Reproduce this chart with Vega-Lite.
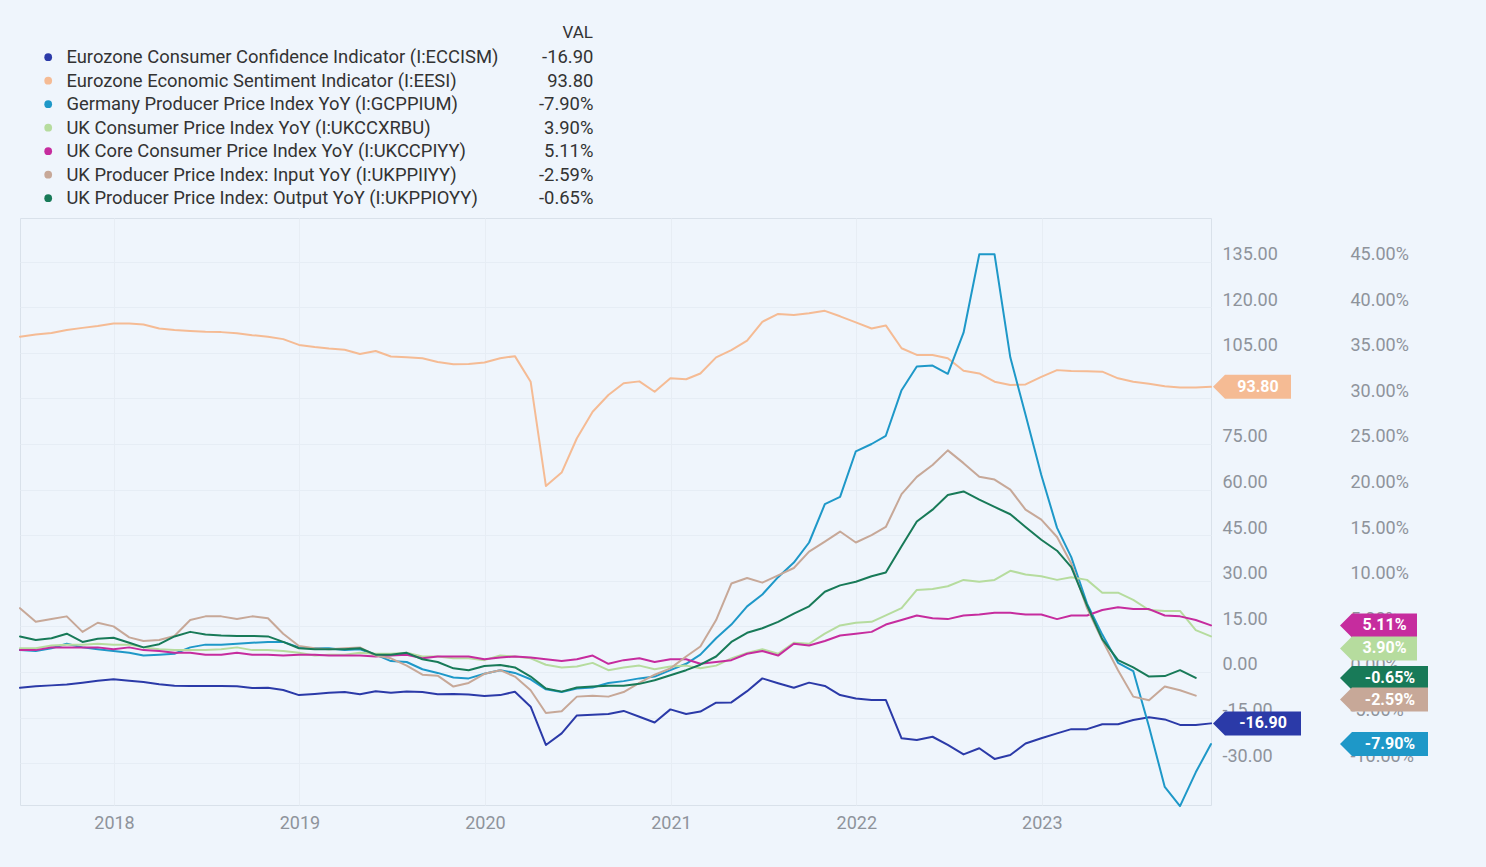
{
  "$schema": "https://vega.github.io/schema/vega-lite/v6.json",
  "width": 1191,
  "height": 587,
  "autosize": "none",
  "padding": {"left": 20, "top": 218, "right": 275, "bottom": 62},
  "background": "#eff5fc",
  "config": {
    "font": "Roboto",
    "view": {"stroke": "#d9e1ea", "strokeWidth": 1},
    "axis": {"domain": false, "ticks": false, "labelFont": "Roboto", "labelFontSize": 18, "labelColor": "#8e939b", "gridColor": "#e6edf5", "gridWidth": 1},
    "legend": {"labelFont": "Roboto", "titleFont": "Roboto"}
  },
  "data": {
    "format": {"parse": {"d": "date"}},
    "values": [
      {"d": "2017-06-30", "cc": -5.2, "es": 110.3, "de": 2.4, "cpi": 2.6, "core": 2.4, "pin": 7.0, "pout": 3.9},
      {"d": "2017-07-31", "cc": -4.7, "es": 111.0, "de": 2.3, "cpi": 2.6, "core": 2.4, "pin": 5.5, "pout": 3.5},
      {"d": "2017-08-31", "cc": -4.4, "es": 111.5, "de": 2.6, "cpi": 2.9, "core": 2.7, "pin": 5.8, "pout": 3.7},
      {"d": "2017-09-30", "cc": -4.1, "es": 112.5, "de": 3.1, "cpi": 3.0, "core": 2.7, "pin": 6.1, "pout": 4.2},
      {"d": "2017-10-31", "cc": -3.5, "es": 113.2, "de": 2.7, "cpi": 3.0, "core": 2.7, "pin": 4.4, "pout": 3.3},
      {"d": "2017-11-30", "cc": -2.9, "es": 113.8, "de": 2.5, "cpi": 3.1, "core": 2.7, "pin": 5.4, "pout": 3.65},
      {"d": "2017-12-31", "cc": -2.4, "es": 114.6, "de": 2.3, "cpi": 3.0, "core": 2.5, "pin": 5.0, "pout": 3.75},
      {"d": "2018-01-31", "cc": -2.9, "es": 114.6, "de": 2.1, "cpi": 3.0, "core": 2.7, "pin": 3.8, "pout": 3.2},
      {"d": "2018-02-28", "cc": -3.3, "es": 114.3, "de": 1.8, "cpi": 2.7, "core": 2.4, "pin": 3.4, "pout": 2.7},
      {"d": "2018-03-31", "cc": -4.0, "es": 113.0, "de": 1.9, "cpi": 2.5, "core": 2.3, "pin": 3.5, "pout": 3.05},
      {"d": "2018-04-30", "cc": -4.5, "es": 112.5, "de": 2.0, "cpi": 2.4, "core": 2.1, "pin": 3.95, "pout": 3.9},
      {"d": "2018-05-31", "cc": -4.6, "es": 112.2, "de": 2.7, "cpi": 2.4, "core": 2.1, "pin": 5.7, "pout": 4.4},
      {"d": "2018-06-30", "cc": -4.6, "es": 111.9, "de": 3.0, "cpi": 2.4, "core": 1.9, "pin": 6.1, "pout": 4.1},
      {"d": "2018-07-31", "cc": -4.6, "es": 111.8, "de": 3.0, "cpi": 2.5, "core": 1.9, "pin": 6.1, "pout": 4.0},
      {"d": "2018-08-31", "cc": -4.7, "es": 111.4, "de": 3.1, "cpi": 2.7, "core": 2.1, "pin": 5.8, "pout": 3.95},
      {"d": "2018-09-30", "cc": -5.3, "es": 110.8, "de": 3.2, "cpi": 2.4, "core": 1.9, "pin": 6.1, "pout": 3.95},
      {"d": "2018-10-31", "cc": -5.2, "es": 110.3, "de": 3.3, "cpi": 2.4, "core": 1.9, "pin": 5.9, "pout": 3.9},
      {"d": "2018-11-30", "cc": -5.9, "es": 109.5, "de": 3.3, "cpi": 2.3, "core": 1.8, "pin": 4.2, "pout": 3.3},
      {"d": "2018-12-31", "cc": -7.6, "es": 107.6, "de": 2.7, "cpi": 2.1, "core": 1.9, "pin": 2.85, "pout": 2.6},
      {"d": "2019-01-31", "cc": -7.2, "es": 106.9, "de": 2.6, "cpi": 1.8, "core": 1.9, "pin": 2.6, "pout": 2.5},
      {"d": "2019-02-28", "cc": -6.8, "es": 106.4, "de": 2.6, "cpi": 1.9, "core": 1.8, "pin": 2.5, "pout": 2.5},
      {"d": "2019-03-31", "cc": -6.6, "es": 106.0, "de": 2.4, "cpi": 1.9, "core": 1.8, "pin": 2.6, "pout": 2.5},
      {"d": "2019-04-30", "cc": -7.3, "es": 104.6, "de": 2.5, "cpi": 2.1, "core": 1.8, "pin": 2.7, "pout": 2.6},
      {"d": "2019-05-31", "cc": -6.3, "es": 105.6, "de": 1.9, "cpi": 2.0, "core": 1.7, "pin": 1.8, "pout": 1.9},
      {"d": "2019-06-30", "cc": -6.8, "es": 103.8, "de": 1.2, "cpi": 2.0, "core": 1.8, "pin": 1.5, "pout": 1.9},
      {"d": "2019-07-31", "cc": -6.4, "es": 103.5, "de": 1.1, "cpi": 2.1, "core": 1.9, "pin": 0.7, "pout": 2.1},
      {"d": "2019-08-31", "cc": -6.6, "es": 103.2, "de": 0.3, "cpi": 1.7, "core": 1.5, "pin": -0.3, "pout": 1.4},
      {"d": "2019-09-30", "cc": -7.3, "es": 102.0, "de": -0.1, "cpi": 1.7, "core": 1.7, "pin": -0.4, "pout": 1.1},
      {"d": "2019-10-31", "cc": -7.2, "es": 101.2, "de": -0.6, "cpi": 1.5, "core": 1.7, "pin": -1.6, "pout": 0.4},
      {"d": "2019-11-30", "cc": -7.4, "es": 101.3, "de": -0.7, "cpi": 1.5, "core": 1.7, "pin": -1.2, "pout": 0.2},
      {"d": "2019-12-31", "cc": -7.9, "es": 101.8, "de": -0.2, "cpi": 1.3, "core": 1.4, "pin": -0.2, "pout": 0.65},
      {"d": "2020-01-31", "cc": -7.6, "es": 103.2, "de": 0.2, "cpi": 1.8, "core": 1.6, "pin": 0.2, "pout": 0.77},
      {"d": "2020-02-29", "cc": -6.5, "es": 103.9, "de": -0.1, "cpi": 1.7, "core": 1.7, "pin": -0.5, "pout": 0.5},
      {"d": "2020-03-31", "cc": -11.4, "es": 95.5, "de": -0.8, "cpi": 1.5, "core": 1.6, "pin": -2.0, "pout": -0.5},
      {"d": "2020-04-30", "cc": -24.0, "es": 61.2, "de": -1.9, "cpi": 0.8, "core": 1.4, "pin": -4.5, "pout": -1.8},
      {"d": "2020-05-31", "cc": -20.2, "es": 65.6, "de": -2.2, "cpi": 0.5, "core": 1.2, "pin": -4.3, "pout": -2.15},
      {"d": "2020-06-30", "cc": -14.3, "es": 76.9, "de": -1.8, "cpi": 0.6, "core": 1.4, "pin": -2.7, "pout": -1.7},
      {"d": "2020-07-31", "cc": -14.1, "es": 85.6, "de": -1.7, "cpi": 1.0, "core": 1.8, "pin": -2.6, "pout": -1.6},
      {"d": "2020-08-31", "cc": -13.8, "es": 91.1, "de": -1.2, "cpi": 0.2, "core": 0.9, "pin": -2.7, "pout": -1.5},
      {"d": "2020-09-30", "cc": -12.8, "es": 95.0, "de": -1.0, "cpi": 0.5, "core": 1.3, "pin": -2.2, "pout": -1.5},
      {"d": "2020-10-31", "cc": -14.7, "es": 95.6, "de": -0.7, "cpi": 0.7, "core": 1.5, "pin": -1.2, "pout": -1.3},
      {"d": "2020-11-30", "cc": -16.6, "es": 92.2, "de": -0.5, "cpi": 0.3, "core": 1.1, "pin": -0.3, "pout": -0.9},
      {"d": "2020-12-31", "cc": -12.3, "es": 96.6, "de": 0.2, "cpi": 0.6, "core": 1.4, "pin": 0.4, "pout": -0.35},
      {"d": "2021-01-31", "cc": -13.8, "es": 96.3, "de": 0.9, "cpi": 0.7, "core": 1.4, "pin": 1.7, "pout": 0.2},
      {"d": "2021-02-28", "cc": -13.0, "es": 98.2, "de": 1.9, "cpi": 0.4, "core": 0.9, "pin": 2.8, "pout": 0.8},
      {"d": "2021-03-31", "cc": -10.1, "es": 103.5, "de": 3.7, "cpi": 0.7, "core": 1.1, "pin": 5.7, "pout": 1.7},
      {"d": "2021-04-30", "cc": -10.0, "es": 105.9, "de": 5.2, "cpi": 1.5, "core": 1.3, "pin": 9.7, "pout": 3.3},
      {"d": "2021-05-31", "cc": -6.3, "es": 109.0, "de": 7.2, "cpi": 2.1, "core": 2.0, "pin": 10.3, "pout": 4.3},
      {"d": "2021-06-30", "cc": -2.1, "es": 115.2, "de": 8.5, "cpi": 2.5, "core": 2.3, "pin": 9.8, "pout": 4.8},
      {"d": "2021-07-31", "cc": -3.7, "es": 117.8, "de": 10.4, "cpi": 2.0, "core": 1.8, "pin": 10.6, "pout": 5.5},
      {"d": "2021-08-31", "cc": -5.2, "es": 117.4, "de": 12.0, "cpi": 3.2, "core": 3.1, "pin": 11.4, "pout": 6.4},
      {"d": "2021-09-30", "cc": -3.5, "es": 118.0, "de": 14.2, "cpi": 3.1, "core": 2.9, "pin": 13.2, "pout": 7.2},
      {"d": "2021-10-31", "cc": -4.6, "es": 118.8, "de": 18.4, "cpi": 4.2, "core": 3.4, "pin": 14.3, "pout": 8.8},
      {"d": "2021-11-30", "cc": -7.6, "es": 117.0, "de": 19.2, "cpi": 5.1, "core": 4.0, "pin": 15.4, "pout": 9.5},
      {"d": "2021-12-31", "cc": -8.7, "es": 115.0, "de": 24.2, "cpi": 5.4, "core": 4.2, "pin": 14.2, "pout": 9.9},
      {"d": "2022-01-31", "cc": -9.2, "es": 113.0, "de": 25.0, "cpi": 5.5, "core": 4.4, "pin": 15.0, "pout": 10.5},
      {"d": "2022-02-28", "cc": -9.2, "es": 114.0, "de": 25.9, "cpi": 6.2, "core": 5.2, "pin": 15.9, "pout": 10.9},
      {"d": "2022-03-31", "cc": -21.8, "es": 106.5, "de": 30.9, "cpi": 7.0, "core": 5.7, "pin": 19.5, "pout": 13.8},
      {"d": "2022-04-30", "cc": -22.4, "es": 104.3, "de": 33.5, "cpi": 9.0, "core": 6.2, "pin": 21.4, "pout": 16.5},
      {"d": "2022-05-31", "cc": -21.3, "es": 104.3, "de": 33.6, "cpi": 9.1, "core": 5.9, "pin": 22.7, "pout": 17.8},
      {"d": "2022-06-30", "cc": -24.0, "es": 103.2, "de": 32.7, "cpi": 9.4, "core": 5.8, "pin": 24.3, "pout": 19.4},
      {"d": "2022-07-31", "cc": -27.1, "es": 99.1, "de": 37.2, "cpi": 10.1, "core": 6.2, "pin": 22.9, "pout": 19.8},
      {"d": "2022-08-31", "cc": -25.1, "es": 98.2, "de": 45.8, "cpi": 9.9, "core": 6.3, "pin": 21.4, "pout": 18.9},
      {"d": "2022-09-30", "cc": -28.6, "es": 95.5, "de": 45.8, "cpi": 10.1, "core": 6.5, "pin": 21.1, "pout": 18.1},
      {"d": "2022-10-31", "cc": -27.3, "es": 94.4, "de": 34.5, "cpi": 11.1, "core": 6.5, "pin": 20.0, "pout": 17.3},
      {"d": "2022-11-30", "cc": -23.5, "es": 94.6, "de": 28.2, "cpi": 10.7, "core": 6.3, "pin": 17.8, "pout": 15.9},
      {"d": "2022-12-31", "cc": -21.8, "es": 97.1, "de": 21.6, "cpi": 10.5, "core": 6.3, "pin": 16.7, "pout": 14.5},
      {"d": "2023-01-31", "cc": -20.2, "es": 99.3, "de": 15.8, "cpi": 10.1, "core": 5.8, "pin": 14.8, "pout": 13.3},
      {"d": "2023-02-28", "cc": -18.8, "es": 99.0, "de": 12.6, "cpi": 10.4, "core": 6.2, "pin": 11.9, "pout": 11.5},
      {"d": "2023-03-31", "cc": -18.8, "es": 98.9, "de": 7.5, "cpi": 10.1, "core": 6.2, "pin": 7.0, "pout": 7.3},
      {"d": "2023-04-30", "cc": -17.2, "es": 98.8, "de": 4.1, "cpi": 8.7, "core": 6.8, "pin": 3.5, "pout": 3.6},
      {"d": "2023-05-31", "cc": -17.2, "es": 96.6, "de": 1.0, "cpi": 8.7, "core": 7.1, "pin": 0.2, "pout": 1.3},
      {"d": "2023-06-30", "cc": -15.8, "es": 95.5, "de": 0.1, "cpi": 7.9, "core": 6.9, "pin": -2.7, "pout": 0.5},
      {"d": "2023-07-31", "cc": -14.9, "es": 94.8, "de": -6.0, "cpi": 6.8, "core": 6.9, "pin": -3.1, "pout": -0.5},
      {"d": "2023-08-31", "cc": -15.6, "es": 94.0, "de": -12.6, "cpi": 6.7, "core": 6.2, "pin": -1.6, "pout": -0.45},
      {"d": "2023-09-30", "cc": -17.4, "es": 93.6, "de": -14.7, "cpi": 6.7, "core": 6.1, "pin": -2.0, "pout": 0.2},
      {"d": "2023-10-31", "cc": -17.4, "es": 93.6, "de": -11.0, "cpi": 4.6, "core": 5.7, "pin": -2.59, "pout": -0.65},
      {"d": "2023-11-30", "cc": -16.9, "es": 93.8, "de": -7.9, "cpi": 3.9, "core": 5.11}
    ]
  },
  "transform": [
    {"fold": ["cc", "es", "de", "cpi", "core", "pin", "pout"], "as": ["s", "v"]},
    {"filter": "isValid(datum.v)"}
  ],
  "encoding": {
    "x": {
      "field": "d", "type": "temporal",
      "scale": {"type": "utc", "domain": [{"year": 2017, "month": 6, "date": 30, "utc": true}, {"year": 2023, "month": 11, "date": 30, "utc": true}]},
      "axis": {"title": null, "format": "%Y", "tickCount": "year", "labelPadding": 9, "grid": true, "gridColor": "#e7edf4"}
    },
    "color": {
      "field": "s", "type": "nominal",
      "scale": {"domain": ["cc", "es", "de", "cpi", "core", "pin", "pout"], "range": ["#2b3aa8", "#f5bb94", "#1e98c8", "#b6dc9e", "#c62c9e", "#c7a898", "#187a58"]},
      "legend": {
        "orient": "none", "legendX": 19, "legendY": -170, "title": null, "direction": "vertical",
        "symbolType": "circle", "symbolSize": 60, "symbolStrokeWidth": 0, "symbolOpacity": 1,
        "labelFontSize": 18.4, "labelColor": "#333333", "labelLimit": 700, "labelOffset": 9, "rowPadding": 4.5, "padding": 0,
        "labelExpr": "datum.value === 'cc' ? 'Eurozone Consumer Confidence Indicator (I:ECCISM)' : datum.value === 'es' ? 'Eurozone Economic Sentiment Indicator (I:EESI)' : datum.value === 'de' ? 'Germany Producer Price Index YoY (I:GCPPIUM)' : datum.value === 'cpi' ? 'UK Consumer Price Index YoY (I:UKCCXRBU)' : datum.value === 'core' ? 'UK Core Consumer Price Index YoY (I:UKCCPIYY)' : datum.value === 'pin' ? 'UK Producer Price Index: Input YoY (I:UKPPIIYY)' : 'UK Producer Price Index: Output YoY (I:UKPPIOYY)'",
        "encode": {"symbols": {"update": {"fill": {"scale": "color", "field": "value"}, "opacity": {"value": 1}, "strokeWidth": {"value": 0}}}}
      }
    }
  },
  "layer": [
    {
      "transform": [{"filter": "datum.s === 'cc' || datum.s === 'es'"}],
      "encoding": {
        "y": {
          "field": "v", "type": "quantitative",
          "scale": {"domain": [-43.75, 149.34], "nice": false, "zero": false},
          "axis": {"title": null, "orient": "right", "values": [-45, -30, -15, 0, 15, 30, 45, 60, 75, 90, 105, 120, 135], "labelExpr": "replace(format(datum.value, '.2f'), '\u2212', '-')", "labelPadding": 11, "labelBaseline": "alphabetic", "labelOffset": -2, "labelAlign": "left", "grid": true}
        }
      },
      "layer": [
        {"mark": {"type": "line", "strokeWidth": 2, "strokeJoin": "round", "strokeCap": "round"}},
        {
          "transform": [
            {"joinaggregate": [{"op": "max", "field": "d", "as": "gmax"}]},
            {"joinaggregate": [{"op": "max", "field": "d", "as": "smax"}], "groupby": ["s"]},
            {"filter": "time(datum.d) === time(datum.smax)"},
            {"calculate": "replace(format(datum.v, '.2f'), '\u2212', '-')", "as": "lab"}
          ],
          "encoding": {"x": {"field": "gmax", "type": "temporal"}},
          "layer": [
            {
              "transform": [{"filter": "datum.v >= 0"}],
              "layer": [
                {"mark": {"type": "point", "filled": true, "opacity": 1, "size": 400, "strokeWidth": 0, "shape": "M0.2,0L1.4,-1.2L8,-1.2L8,1.2L1.4,1.2Z"}},
                {"mark": {"type": "text", "fontSize": 16, "fontWeight": "bold", "baseline": "middle", "align": "center", "dx": 47}, "encoding": {"text": {"field": "lab"}, "color": {"value": "#ffffff"}}}
              ]
            },
            {
              "transform": [{"filter": "datum.v < 0"}],
              "layer": [
                {"mark": {"type": "point", "filled": true, "opacity": 1, "size": 400, "strokeWidth": 0, "shape": "M0.2,0L1.4,-1.2L9,-1.2L9,1.2L1.4,1.2Z"}},
                {"mark": {"type": "text", "fontSize": 16, "fontWeight": "bold", "baseline": "middle", "align": "center", "dx": 52}, "encoding": {"text": {"field": "lab"}, "color": {"value": "#ffffff"}}}
              ]
            }
          ]
        }
      ]
    },
    {
      "transform": [{"filter": "datum.s !== 'cc' && datum.s !== 'es'"}],
      "encoding": {
        "y": {
          "field": "v", "type": "quantitative",
          "scale": {"domain": [-14.583, 49.78], "nice": false, "zero": false},
          "axis": {"title": null, "orient": "right", "values": [-15, -10, -5, 0, 5, 10, 15, 20, 25, 30, 35, 40, 45], "labelExpr": "replace(format(datum.value, '.2f'), '\u2212', '-') + '%'", "offset": 128, "labelPadding": 11, "labelBaseline": "alphabetic", "labelOffset": -2, "labelAlign": "left", "grid": false}
        }
      },
      "layer": [
        {"mark": {"type": "line", "strokeWidth": 2, "strokeJoin": "round", "strokeCap": "round"}},
        {
          "transform": [
            {"joinaggregate": [{"op": "max", "field": "d", "as": "gmax"}]},
            {"joinaggregate": [{"op": "max", "field": "d", "as": "smax"}], "groupby": ["s"]},
            {"filter": "time(datum.d) === time(datum.smax)"},
            {"calculate": "replace(format(datum.v, '.2f'), '\u2212', '-') + '%'", "as": "lab"}
          ],
          "encoding": {"x": {"field": "gmax", "type": "temporal"}},
          "layer": [
            {
              "transform": [{"filter": "datum.v >= 0 && datum.s !== 'cpi'"}],
              "layer": [
                {"mark": {"type": "point", "filled": true, "opacity": 1, "size": 400, "strokeWidth": 0, "shape": "M12.9,0L14.1,-1.2L20.6,-1.2L20.6,1.2L14.1,1.2Z"}},
                {"mark": {"type": "text", "fontSize": 16, "fontWeight": "bold", "baseline": "middle", "align": "center", "dx": 173.5}, "encoding": {"text": {"field": "lab"}, "color": {"value": "#ffffff"}}}
              ]
            },
            {
              "transform": [{"filter": "datum.s === 'cpi'"}],
              "layer": [
                {"mark": {"type": "point", "filled": true, "opacity": 1, "size": 400, "strokeWidth": 0, "shape": "M12.9,1.2L14.1,0L20.6,0L20.6,2.4L14.1,2.4Z"}},
                {"mark": {"type": "text", "fontSize": 16, "fontWeight": "bold", "baseline": "middle", "align": "center", "dx": 173.5, "dy": 12}, "encoding": {"text": {"field": "lab"}, "color": {"value": "#ffffff"}}}
              ]
            },
            {
              "transform": [{"filter": "datum.v < 0 && datum.s !== 'pin'"}],
              "layer": [
                {"mark": {"type": "point", "filled": true, "opacity": 1, "size": 400, "strokeWidth": 0, "shape": "M12.9,0L14.1,-1.2L21.7,-1.2L21.7,1.2L14.1,1.2Z"}},
                {"mark": {"type": "text", "fontSize": 16, "fontWeight": "bold", "baseline": "middle", "align": "center", "dx": 179}, "encoding": {"text": {"field": "lab"}, "color": {"value": "#ffffff"}}}
              ]
            },
            {
              "transform": [{"filter": "datum.s === 'pin'"}],
              "layer": [
                {"mark": {"type": "point", "filled": true, "opacity": 1, "size": 400, "strokeWidth": 0, "shape": "M12.9,0.4L14.1,-0.8L21.7,-0.8L21.7,1.6L14.1,1.6Z"}},
                {"mark": {"type": "text", "fontSize": 16, "fontWeight": "bold", "baseline": "middle", "align": "center", "dx": 179, "dy": 4}, "encoding": {"text": {"field": "lab"}, "color": {"value": "#ffffff"}}}
              ]
            }
          ]
        }
      ]
    },
    {
      "transform": [
        {"joinaggregate": [{"op": "max", "field": "d", "as": "smax"}], "groupby": ["s"]},
        {"filter": "time(datum.d) === time(datum.smax)"},
        {"calculate": "(datum.s === 'cc' || datum.s === 'es') ? replace(format(datum.v, '.2f'), '\u2212', '-') : replace(format(datum.v, '.2f'), '\u2212', '-') + '%'", "as": "lab"},
        {"calculate": "indexof(['cc','es','de','cpi','core','pin','pout'], datum.s)", "as": "o"}
      ],
      "mark": {"type": "point", "opacity": 0},
      "encoding": {
        "shape": {
          "field": "lab", "type": "nominal", "sort": {"field": "o", "op": "min"},
          "legend": {
            "orient": "none", "legendX": 543, "legendY": -193.5, "title": "VAL",
            "titleFontSize": 17, "titleFontWeight": "normal", "titleColor": "#333333", "titleAnchor": "end", "titlePadding": 6.5,
            "labelFontSize": 18.4, "labelColor": "#333333", "labelAlign": "right", "labelOffset": 0,
            "symbolSize": 0, "symbolOpacity": 0, "symbolStrokeWidth": 0, "rowPadding": 4.5, "padding": 0
          }
        }
      }
    }
  ],
  "resolve": {"scale": {"y": "independent"}}
}
